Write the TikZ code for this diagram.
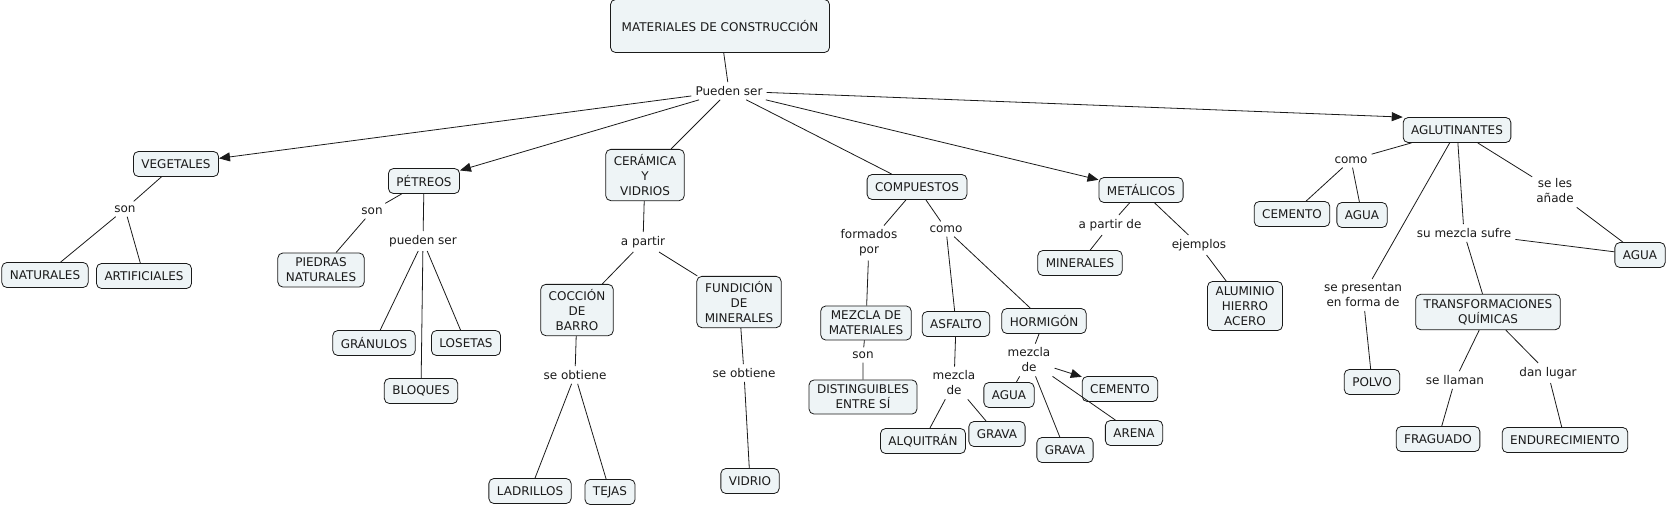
\documentclass[tikz,border=0pt]{standalone}
\usepackage{fontspec}
\setmainfont{DejaVu Sans}
\usetikzlibrary{arrows.meta}
\definecolor{ink}{HTML}{1A1A1A}
\definecolor{conceptFill}{HTML}{EEF4F6}
\tikzset{
  base/.style={font=\fontsize{12}{15}\selectfont, text=ink},
  concept/.style={base, rounded corners=5pt, draw=ink, fill=conceptFill, align=center, inner xsep=8pt, inner ysep=5pt, minimum height=25pt, line width=0.8pt},
  phrase/.style={base, align=center, inner sep=4pt},
  link/.style={line width=0.8pt, draw=ink},
  arrow/.style={link, -{Triangle[length=11pt,width=9pt]}},
}

\begin{document}
\begin{tikzpicture}[x=1pt,y=-1pt]
  \useasboundingbox (0,0) rectangle (1667,507);

  % top
  \node[concept,minimum width=219pt,minimum height=53pt] (mat) at (720,26) {MATERIALES DE CONSTRUCCIÓN};
  \node[phrase] (pueden) at (729,91) {Pueden ser};

  % vegetales
  \node[concept] (veg) at (176,164) {VEGETALES};
  \node[phrase] (sonA) at (125,209) {son};
  \node[concept] (nat) at (45,275) {NATURALES};
  \node[concept] (art) at (144,276) {ARTIFICIALES};

  % petreos
  \node[concept] (pet) at (424,181) {PÉTREOS};
  \node[phrase] (sonB) at (372,211) {son};
  \node[phrase] (puedenB) at (423,241) {pueden ser};
  \node[concept] (piedras) at (321,270) {PIEDRAS\\NATURALES};
  \node[concept] (granulos) at (374,343) {GRÁNULOS};
  \node[concept] (losetas) at (466,343) {LOSETAS};
  \node[concept] (bloques) at (421,391) {BLOQUES};

  % ceramica
  \node[concept] (ceramica) at (645,175) {CERÁMICA\\Y\\VIDRIOS};
  \node[phrase] (apartir) at (643,242) {a partir};
  \node[concept] (coccion) at (577,310) {COCCIÓN\\DE\\BARRO};
  \node[concept] (fundicion) at (739,302) {FUNDICIÓN\\DE\\MINERALES};
  \node[phrase] (seobtA) at (575,375) {se obtiene};
  \node[phrase] (seobtB) at (744,373) {se obtiene};
  \node[concept] (ladrillos) at (530,491) {LADRILLOS};
  \node[concept] (tejas) at (610,492) {TEJAS};
  \node[concept] (vidrio) at (750,481) {VIDRIO};

  % compuestos
  \node[concept] (compuestos) at (917,187) {COMPUESTOS};
  \node[phrase] (formados) at (869,243) {formados\\por};
  \node[phrase] (comoA) at (946,229) {como};
  \node[concept] (mezclaMat) at (866,323) {MEZCLA DE\\MATERIALES};
  \node[phrase] (sonC) at (863,355) {son};
  \node[concept] (distinguibles) at (863,397) {DISTINGUIBLES\\ENTRE SÍ};
  \node[concept] (asfalto) at (956,324) {ASFALTO};
  \node[phrase] (mezclaA) at (954,383) {mezcla\\de};
  \node[concept] (alquitran) at (923,441) {ALQUITRÁN};
  \node[concept] (gravaA) at (997,434) {GRAVA};
  \node[concept] (hormigon) at (1044,321) {HORMIGÓN};
  \node[phrase] (mezclaH) at (1029,360) {mezcla\\de};
  \node[concept] (aguaH) at (1009,395) {AGUA};
  \node[concept] (cementoH) at (1120,389) {CEMENTO};
  \node[concept] (gravaH) at (1065,450) {GRAVA};
  \node[concept] (arena) at (1134,433) {ARENA};

  % metalicos
  \node[concept] (metalicos) at (1141,190) {METÁLICOS};
  \node[phrase] (apartirde) at (1110,225) {a partir de};
  \node[concept] (minerales) at (1080,263) {MINERALES};
  \node[phrase] (ejemplos) at (1199,245) {ejemplos};
  \node[concept] (aluminio) at (1245,306) {ALUMINIO\\HIERRO\\ACERO};

  % aglutinantes
  \node[concept] (aglut) at (1457,130) {AGLUTINANTES};
  \node[phrase] (comoB) at (1351,160) {como};
  \node[concept] (cementoB) at (1292,214) {CEMENTO};
  \node[concept] (aguaB) at (1362,215) {AGUA};
  \node[phrase] (seles) at (1555,191) {se les\\añade};
  \node[concept] (aguaR) at (1640,255) {AGUA};
  \node[phrase] (sumezcla) at (1464,233) {su mezcla sufre};
  \node[phrase] (sepresentan) at (1363,295) {se presentan\\en forma de};
  \node[concept] (transf) at (1488,312) {TRANSFORMACIONES\\QUÍMICAS};
  \node[concept] (polvo) at (1372,382) {POLVO};
  \node[phrase] (sellaman) at (1455,380) {se llaman};
  \node[phrase] (danlugar) at (1548,373) {dan lugar};
  \node[concept] (fraguado) at (1438,439) {FRAGUADO};
  \node[concept] (endurec) at (1565,440) {ENDURECIMIENTO};

  % connectors
  \draw[link] (mat) -- (pueden);
  \draw[arrow] (pueden) -- (veg);
  \draw[arrow] (pueden) -- (pet);
  \draw[link] (pueden) -- (ceramica);
  \draw[link] (pueden) -- (compuestos);
  \draw[arrow] (pueden) -- (metalicos);
  \draw[arrow] (pueden) -- (aglut.north west);

  \draw[link] (veg) -- (sonA);
  \draw[link] (sonA) -- (nat);
  \draw[link] (sonA) -- (art);

  \draw[link] (pet) -- (sonB) -- (piedras);
  \draw[link] (pet) -- (puedenB);
  \draw[link] (puedenB) -- (granulos);
  \draw[link] (puedenB) -- (bloques);
  \draw[link] (puedenB) -- (losetas);

  \draw[link] (ceramica) -- (apartir);
  \draw[link] (apartir) -- (coccion);
  \draw[link] (apartir) -- (fundicion);
  \draw[link] (coccion) -- (seobtA);
  \draw[link] (seobtA) -- (ladrillos);
  \draw[link] (seobtA) -- (tejas);
  \draw[link] (fundicion) -- (seobtB) -- (vidrio);

  \draw[link] (compuestos) -- (formados) -- (mezclaMat) -- (sonC) -- (distinguibles);
  \draw[link] (compuestos) -- (comoA);
  \draw[link] (comoA) -- (asfalto);
  \draw[link] (comoA) -- (hormigon);
  \draw[link] (asfalto) -- (mezclaA);
  \draw[link] (mezclaA) -- (alquitran);
  \draw[link] (mezclaA) -- (gravaA);
  \draw[link] (hormigon) -- (mezclaH);
  \draw[link] (mezclaH) -- (aguaH);
  \draw[arrow] (mezclaH) -- (cementoH);
  \draw[link] (mezclaH) -- (gravaH);
  \draw[link] (mezclaH) -- (arena);

  \draw[link] (metalicos) -- (apartirde) -- (minerales);
  \draw[link] (metalicos) -- (ejemplos) -- (aluminio);

  \draw[link] (aglut) -- (comoB);
  \draw[link] (comoB) -- (cementoB);
  \draw[link] (comoB) -- (aguaB);
  \draw[link] (aglut) -- (seles) -- (aguaR);
  \draw[link] (aglut) -- (sumezcla) -- (transf);
  \draw[link] (sumezcla) -- (aguaR);
  \draw[link] (aglut) -- (sepresentan) -- (polvo);
  \draw[link] (transf) -- (sellaman) -- (fraguado);
  \draw[link] (transf) -- (danlugar) -- (endurec);
\end{tikzpicture}
\end{document}
